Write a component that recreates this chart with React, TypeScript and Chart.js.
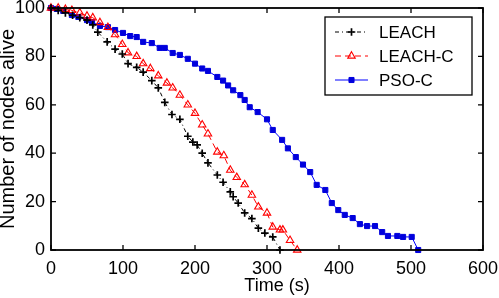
import { useEffect, useRef } from 'react';
import { Chart, registerables } from 'chart.js';
import { drawPoint } from 'chart.js/helpers';

Chart.register(...registerables);

// Axis ticks
const xTicks = [0, 100, 200, 300, 400, 500, 600];
const yTicks = [0, 20, 40, 60, 80, 100];

const xTitle = 'Time (s)';
const yTitle = 'Number of nodes alive';
const seriesNames = ['LEACH', 'LEACH-C', 'PSO-C'];

// LEACH
const leachTime = [0, 10, 20, 30, 40, 50, 58, 65, 78, 89, 99, 107, 119, 128, 140, 149, 158, 168, 179, 190, 197, 203, 210, 218, 231, 239, 249, 253, 260, 269, 279, 288, 297, 308, 318];
const leachAlive = [100, 99, 98, 97, 96, 95, 93, 90, 86, 83, 81, 77, 75.5, 73.5, 70, 67, 61, 56, 54, 47, 44.6, 43.4, 40, 36, 31, 28, 24, 22, 19.4, 15.3, 13, 9, 7, 5.4, 0];

// LEACH-C
const leachCTime = [0, 10, 20, 29, 40, 50, 58, 68, 79, 89, 99, 107, 119, 128, 138, 149, 161, 169, 179, 190, 200, 210, 218, 231, 240, 249, 258, 269, 279, 288, 300, 308, 318, 322, 332, 342];
const leachCAlive = [100, 100, 99.5, 99, 98, 96.7, 96, 94, 92, 89, 85, 81.5, 80, 77, 75, 72, 69, 67, 64, 60, 56.5, 51.7, 48, 40.5, 39, 33, 30, 27, 22.7, 17.8, 15.3, 9.5, 8.3, 8.3, 4, 0];

// PSO-C
const psoTime = [0, 8, 17, 29, 38, 50, 57, 68, 79, 89, 100, 110, 119, 128, 140, 151, 158, 169, 179, 190, 200, 210, 218, 231, 239, 246, 253, 263, 269, 276, 287, 300, 308, 321, 329, 340, 350, 360, 369, 381, 390, 399, 408, 419, 429, 439, 450, 460, 468, 481, 489, 501, 510];
const psoAlive = [100, 99.6, 98.8, 97.1, 96.3, 95, 94.2, 92.6, 92.1, 90.9, 89.7, 88.4, 88, 86, 85.5, 83.5, 83.5, 81.4, 80.6, 79, 77, 75, 74, 71.5, 70, 68, 66, 64, 62, 59, 57, 54, 49.6, 45.5, 42, 38.4, 35.3, 32.2, 26.9, 24.8, 19.4, 16.5, 14.5, 13.2, 10.7, 9.9, 9.9, 7.4, 5.8, 5.8, 5.4, 5.4, 0];

const FONT = '"Liberation Sans", Arial, sans-serif';

const toPoints = (xs: number[], ys: number[]) => xs.map((x, i) => ({ x, y: ys[i] }));

// Box around the plot, inward ticks on all four sides, legend and x title
const framePlugin = {
  id: 'frame',
  afterDraw(chart: any) {
    const { ctx, chartArea } = chart;
    const { left, right, top, bottom } = chartArea;
    const xs = chart.scales.x;
    const ys = chart.scales.y;
    const tl = 5;
    ctx.save();
    ctx.strokeStyle = '#000';
    ctx.lineWidth = 1.8;
    ctx.setLineDash([]);
    ctx.strokeRect(left, top, right - left, bottom - top);
    ctx.lineWidth = 1.3;
    ctx.beginPath();
    xTicks.forEach((v) => {
      const px = xs.getPixelForValue(v);
      ctx.moveTo(px, bottom);
      ctx.lineTo(px, bottom - tl);
      ctx.moveTo(px, top);
      ctx.lineTo(px, top + tl);
    });
    yTicks.forEach((v) => {
      const py = ys.getPixelForValue(v);
      ctx.moveTo(left, py);
      ctx.lineTo(left + tl, py);
      ctx.moveTo(right, py);
      ctx.lineTo(right - tl, py);
    });
    ctx.stroke();

    // x title
    ctx.fillStyle = '#000';
    ctx.font = `18px ${FONT}`;
    ctx.textAlign = 'center';
    ctx.textBaseline = 'middle';
    ctx.fillText(xTitle, (left + right) / 2 + 10, bottom + 36);

    // legend
    const lx = right - 158;
    const ly = top + 9;
    const lw = 147;
    const lh = 78;
    ctx.fillStyle = '#fff';
    ctx.fillRect(lx, ly, lw, lh);
    ctx.lineWidth = 1.3;
    ctx.strokeStyle = '#000';
    ctx.strokeRect(lx, ly, lw, lh);
    chart.data.datasets.forEach((ds: any, i: number) => {
      const y = ly + 15 + i * 24;
      const x0 = lx + 10;
      const x1 = lx + 43;
      ctx.save();
      ctx.strokeStyle = ds.borderColor;
      ctx.lineWidth = ds.borderWidth;
      ctx.setLineDash(ds.borderDash || []);
      ctx.beginPath();
      ctx.moveTo(x0, y);
      ctx.lineTo(x1, y);
      ctx.stroke();
      ctx.setLineDash([]);
      ctx.strokeStyle = ds.pointBorderColor;
      ctx.fillStyle = ds.pointBackgroundColor;
      ctx.lineWidth = ds.pointBorderWidth;
      drawPoint(ctx, { pointStyle: ds.pointStyle, radius: ds.pointRadius, rotation: 0, borderWidth: ds.pointBorderWidth }, (x0 + x1) / 2, y);
      ctx.restore();
      ctx.fillStyle = '#000';
      ctx.font = `17px ${FONT}`;
      ctx.textAlign = 'left';
      ctx.textBaseline = 'middle';
      ctx.fillText(ds.label, lx + 54, y + 1);
    });
    ctx.restore();
  },
};

export default function App() {
  const canvasRef = useRef<HTMLCanvasElement | null>(null);

  useEffect(() => {
    document.body.style.margin = '0';
    const canvas = canvasRef.current;
    if (!canvas) return;
    const chart = new Chart(canvas, {
      type: 'line',
      data: {
        datasets: [
          {
            label: seriesNames[0],
            data: toPoints(leachTime, leachAlive),
            borderColor: '#000',
            borderWidth: 1,
            borderDash: [4, 3, 1, 3],
            pointStyle: 'cross',
            pointRadius: 3.8,
            pointBorderWidth: 1.7,
            pointBorderColor: '#000',
            pointBackgroundColor: '#000',
            clip: false,
          },
          {
            label: seriesNames[1],
            data: toPoints(leachCTime, leachCAlive),
            borderColor: '#ff0000',
            borderWidth: 1,
            borderDash: [6, 4],
            pointStyle: 'triangle',
            pointRadius: 4.3,
            pointBorderWidth: 1.1,
            pointBorderColor: '#ff0000',
            pointBackgroundColor: 'rgba(255,255,255,0)',
            clip: false,
          },
          {
            label: seriesNames[2],
            data: toPoints(psoTime, psoAlive),
            borderColor: '#0000ff',
            borderWidth: 1,
            borderDash: [],
            pointStyle: 'rect',
            pointRadius: 3.6,
            pointBorderWidth: 1,
            pointBorderColor: '#0000dd',
            pointBackgroundColor: '#0000dd',
            clip: false,
          },
        ] as any,
      },
      options: {
        animation: false,
        responsive: false,
        layout: { padding: { top: 8, right: 16, left: 0, bottom: 0 } },
        plugins: { legend: { display: false }, tooltip: { enabled: false } },
        elements: { line: { tension: 0 } },
        scales: {
          x: {
            type: 'linear',
            min: 0,
            max: 600,
            grid: { display: false, drawTicks: false },
            border: { display: false },
            ticks: {
              stepSize: 100,
              padding: 8,
              color: '#000',
              font: { family: FONT, size: 18 },
              maxRotation: 0,
            },
            afterFit(scale: any) {
              scale.height = 48;
              scale.paddingLeft = 0;
              scale.paddingRight = 0;
            },
          },
          y: {
            type: 'linear',
            min: 0,
            max: 100,
            grid: { display: false, drawTicks: false },
            border: { display: false },
            ticks: {
              stepSize: 20,
              padding: 6,
              color: '#000',
              font: { family: FONT, size: 18 },
            },
            title: {
              display: true,
              text: yTitle,
              color: '#000',
              font: { family: FONT, size: 20, lineHeight: 0.85 },
              padding: 0,
            },
            afterFit(scale: any) {
              scale.width = 51;
              scale.paddingTop = 0;
              scale.paddingBottom = 0;
            },
          },
        },
      } as any,
      plugins: [framePlugin],
    });
    return () => chart.destroy();
  }, []);

  return (
    <div style={{ width: 499, height: 298 }}>
      <canvas ref={canvasRef} width={499} height={298} />
    </div>
  );
}
